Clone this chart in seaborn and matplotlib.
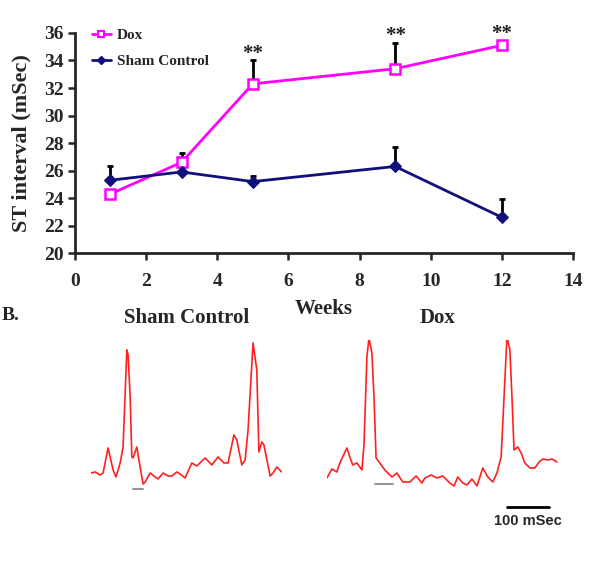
import numpy as np
import pandas as pd
import seaborn as sns
import matplotlib.pyplot as plt
from matplotlib.lines import Line2D

# ST interval data (mSec)
weeks = [1, 3, 5, 9, 12]
dox_mean = [24.3, 26.6, 32.3, 33.4, 35.1]
dox_err = [0.1, 0.7, 1.7, 1.9, 0.2]
sham_mean = [25.3, 25.9, 25.2, 26.3, 22.6]
sham_err = [1.0, 0.4, 0.4, 1.4, 1.3]
star_weeks = [5, 9, 12]
star_y = [34.45, 35.75, 35.95]

# ECG traces (time in ms, amplitude a.u.)
sham_t = [0, 10, 22, 29, 41, 53, 60, 70, 77, 86, 89, 94, 98, 101, 110, 115, 125, 130,
          142, 154, 161, 173, 185, 194, 206, 214, 226, 242, 254, 274, 290, 305, 319, 329,
          343, 350, 362, 370, 377, 389, 398, 403, 410, 415, 430, 437, 446, 458]
sham_v = [1.7, 1.8, 1.5, 1.7, 4.2, 2.0, 1.3, 2.7, 4.3, 14.0, 13.5, 9.3, 3.3, 3.2, 4.3, 3.0, 0.6, 0.8,
          1.7, 1.3, 1.1, 1.7, 1.4, 1.4, 1.8, 1.6, 1.2, 2.7, 2.4, 3.2, 2.5, 3.3, 2.7, 2.7,
          5.5, 5.0, 2.5, 3.0, 6.0, 14.7, 12.0, 3.8, 4.8, 4.5, 1.4, 1.7, 2.3, 1.8]
dox_t = [0, 12, 24, 31, 48, 55, 62, 72, 84, 89, 96, 101, 108, 113, 118, 127, 139, 156,
         168, 182, 199, 214, 228, 235, 250, 264, 278, 295, 305, 314, 326, 336, 348, 360,
         374, 386, 398, 408, 418, 422, 432, 439, 444, 449, 458, 466, 475, 487, 499, 509,
         518, 530, 540, 552]
dox_v = [1.2, 2.1, 1.8, 2.7, 4.2, 3.3, 2.5, 2.7, 2.0, 4.5, 13.3, 15.2, 13.7, 9.3, 3.2, 2.7, 2.0, 1.3,
         1.7, 0.8, 0.8, 1.4, 0.7, 1.2, 1.5, 1.2, 1.4, 0.7, 0.4, 1.3, 0.7, 0.5, 1.1, 0.4,
         2.2, 1.3, 0.8, 1.7, 3.3, 6.7, 15.3, 14.0, 9.3, 4.0, 4.3, 3.7, 2.7, 2.2, 2.2, 2.8,
         3.1, 3.0, 3.1, 2.8]
sham_mark = [101, 125]
dox_mark = [115, 158]
scale_bar = [432, 532]

DOX_C = '#ff00ff'
SHAM_C = '#10107a'

sns.set_style("ticks")
plt.rcParams['font.family'] = ['Liberation Serif', 'DejaVu Serif']

fig = plt.figure(figsize=(5.89, 5.78), dpi=100)

# ---- panel A ----
ax = fig.add_axes([0.127, 0.562, 0.846, 0.381])
df = pd.DataFrame({'Weeks': weeks * 2,
                   'ST': dox_mean + sham_mean,
                   'Group': ['Dox'] * 5 + ['Sham Control'] * 5})

ax.errorbar(weeks, dox_mean, yerr=[np.zeros(5), dox_err], fmt='none',
            ecolor='black', elinewidth=2, capsize=2.5, capthick=2, zorder=1)
ax.errorbar(weeks, sham_mean, yerr=[np.zeros(5), sham_err], fmt='none',
            ecolor='black', elinewidth=2, capsize=2.5, capthick=2, zorder=1)

sns.lineplot(data=df[df.Group == 'Dox'], x='Weeks', y='ST', color=DOX_C,
             marker='s', markersize=7, markerfacecolor='white',
             markeredgecolor=DOX_C, markeredgewidth=1.8, linewidth=2, ax=ax, zorder=3)
sns.lineplot(data=df[df.Group == 'Sham Control'], x='Weeks', y='ST', color=SHAM_C,
             marker='D', markersize=6, markeredgecolor=SHAM_C, linewidth=2, ax=ax, zorder=3)

for wk, y in zip(star_weeks, star_y):
    ax.text(wk, y, '**', ha='center', va='center', fontsize=15,
            fontweight='bold', color='#222222', clip_on=False)

ax.set_xlim(0, 14)
ax.set_ylim(20, 36)
ax.set_xticks(range(0, 15, 2))
ax.set_yticks(range(20, 37, 2))
ax.set_xlabel('Weeks', fontsize=15, fontweight='bold', labelpad=7)
ax.set_ylabel('ST interval (mSec)', fontsize=16, fontweight='bold', labelpad=9)
for lbl in ax.get_xticklabels() + ax.get_yticklabels():
    lbl.set_fontweight('bold')
ax.tick_params(labelsize=14, width=1.8, length=5)
ax.tick_params(axis='x', pad=9)
ax.tick_params(axis='y', pad=3)
sns.despine(ax=ax)
for s in ['left', 'bottom']:
    ax.spines[s].set_linewidth(2)

handles = [Line2D([], [], color=DOX_C, lw=2, marker='s', markersize=5,
                  markerfacecolor='white', markeredgewidth=1.5),
           Line2D([], [], color=SHAM_C, lw=2, marker='D', markersize=4.5)]
ax.legend(handles, ['Dox', 'Sham Control'], loc='upper left',
          bbox_to_anchor=(0.034, 1.02), frameon=False, borderpad=0, borderaxespad=0,
          prop={'weight': 'bold', 'size': 11}, handlelength=1.25,
          labelspacing=0.8, handletextpad=0.4)

# ---- panel B ----
fig.text(11 / 589, 1 - 315 / 578, 'B.', fontsize=14, fontweight='bold', ha='center', va='center')
fig.text(187 / 589, 1 - 318 / 578, 'Sham Control', fontsize=15, fontweight='bold',
         ha='center', va='center')
fig.text(438 / 589, 1 - 318 / 578, 'Dox', fontsize=15, fontweight='bold',
         ha='center', va='center')

ax1 = fig.add_axes([0.1545, 0.083, 190.8 / 589, 0.329])
sns.lineplot(x=sham_t, y=sham_v, sort=False, color='#ff2020', linewidth=1.2, ax=ax1)
ax1.plot(sham_mark, [0.1, 0.1], color='#888888', linewidth=1.3)
ax1.set_xlim(0, 458)
ax1.set_ylim(-4, 15)
ax1.axis('off')

ax2 = fig.add_axes([0.555, 0.083, 233 / 589, 0.329])
sns.lineplot(x=dox_t, y=dox_v, sort=False, color='#ff2020', linewidth=1.2, ax=ax2)
ax2.plot(dox_mark, [0.6, 0.6], color='#888888', linewidth=1.3)
ax2.plot(scale_bar, [-1.7, -1.7], color='black', linewidth=2)
ax2.text(np.mean(scale_bar), -3.1, '100 mSec', ha='center', va='center',
         fontsize=10.5, fontweight='bold', family='Liberation Sans')
ax2.set_xlim(0, 559)
ax2.set_ylim(-4, 15)
ax2.axis('off')

fig.savefig('out.png', dpi=100)
